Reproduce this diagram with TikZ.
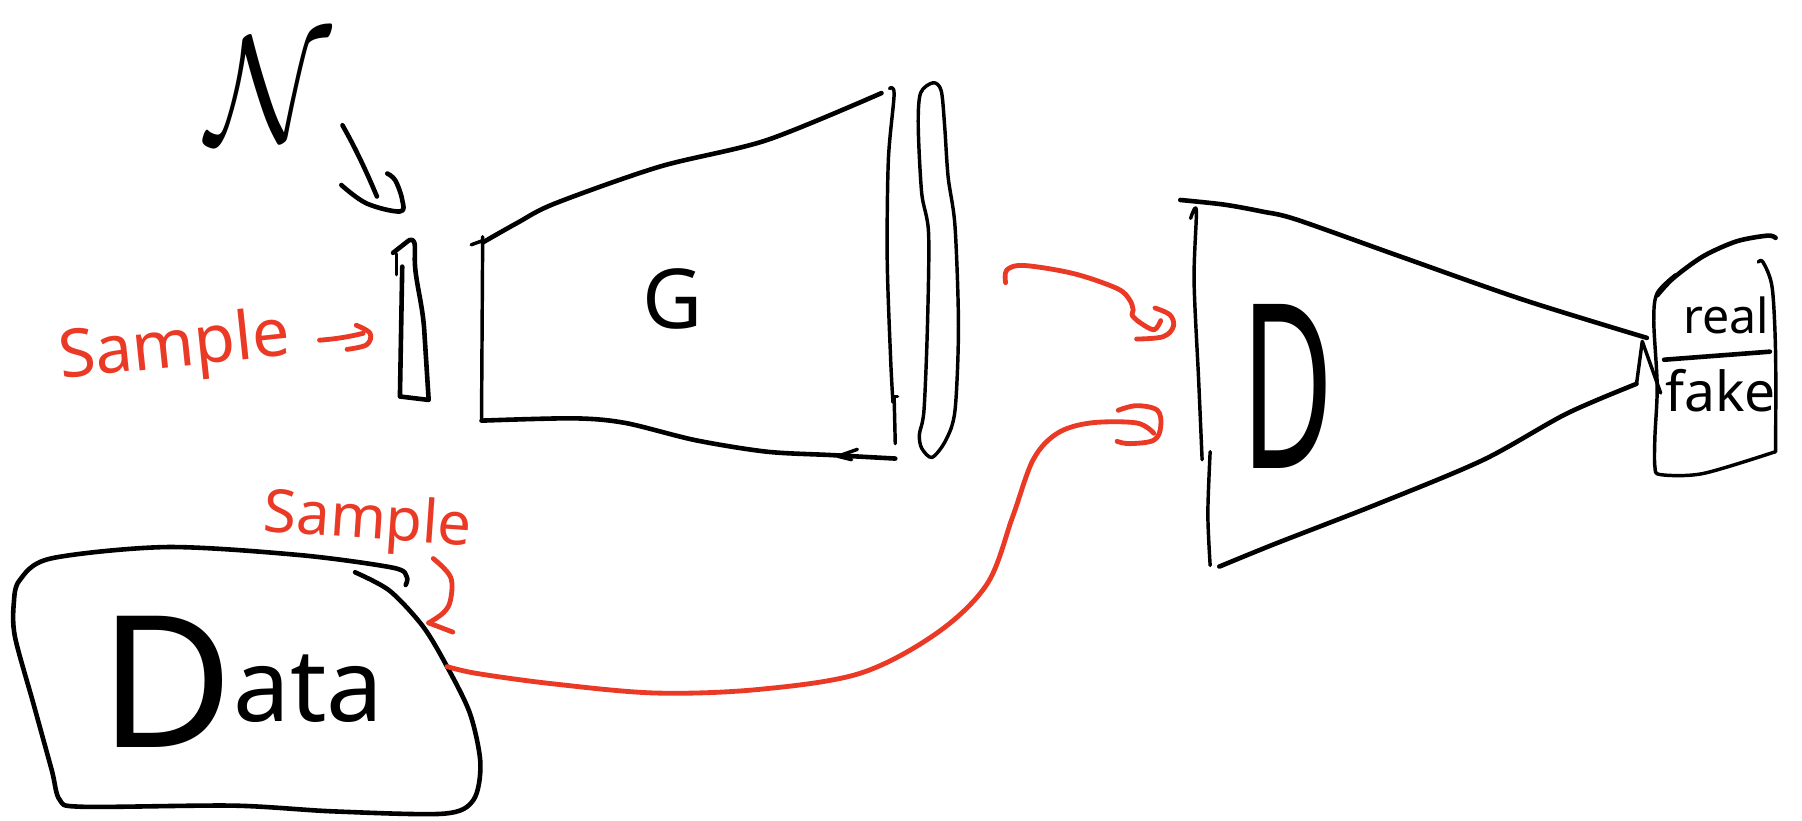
\documentclass[tikz,border=0pt]{standalone}
\usepackage{fontspec}
\setmainfont{Noto Sans}
\definecolor{redpen}{HTML}{EA3A26}
\begin{document}
\begin{tikzpicture}[x=0.5pt,y=-0.5pt,line cap=round,line join=round,
  ink/.style={draw=black,line width=2pt},
  thinink/.style={draw=black,line width=1.5pt},
  redink/.style={draw=redpen,line width=2.1pt},
  lbl/.style={inner sep=0pt,text=black},
  rlbl/.style={inner sep=0pt,text=redpen}]
\useasboundingbox (0,0) rectangle (1568,714);

% ---- noise label and arrow to z ----
\node[lbl,scale=6.6,xscale=0.85] (noise) at (234,78) {$\mathcal{N}$};
\coordinate (nA) at (298,109);
\coordinate (nB) at (328,171);
\draw[ink] (nA) .. controls (310,130) and (320,152) .. (nB);
\draw[ink] plot[smooth,tension=0.6] coordinates {(297,161) (319,177) (348,184) (350,174) (344,157) (337,151)};

% ---- z input bar ----
\draw[ink] (342,220) -- (356,209) .. controls (362,207) and (361,215) .. (361,222)
  .. controls (360,240) and (367,260) .. (369,285) -- (373,348) -- (348,345) -- (350,232);
\draw[thinink] (345,221) -- (345,239);

% ---- Sample -> z ----
\node[rlbl,rotate=6,font=\fontsize{29}{29}\selectfont] (samp1) at (152,304) {Sample};
\coordinate (s1a) at (278,296);
\coordinate (s1b) at (316,290);
\draw[redink] (s1a) .. controls (292,295) and (304,293) .. (s1b);
\draw[redink] plot[smooth,tension=0.6] coordinates {(310,283) (322,290) (319,300) (302,304)};

% ---- generator G ----
\draw[thinink] (420,206) -- (419,364);
\draw[thinink] (410,213) -- (421,209);
\draw[ink] plot[smooth,tension=0.5] coordinates {(420,211) (450,194) (483,177) (574,145) (667,122) (767,81)};
\draw[ink] plot[smooth,tension=0.5] coordinates {(419,366) (499,364) (544,368) (605,383) (667,393) (724,396) (779,399)};
\draw[thinink] (746,391) -- (729,397) -- (741,400);
\draw[thinink] plot[smooth,tension=0.5] coordinates {(774,77) (778,82) (773,139) (772,226) (775,313) (777,350)};
\draw[thinink] (778,345) -- (779,386);
\draw[thinink] (777,345) -- (781,345);
\node[lbl,font=\fontsize{36}{36}\selectfont\bfseries] (Glbl) at (585,260) {G};

% ---- generated sample (capsule) ----
\draw[thinink] plot[smooth cycle,tension=0.5] coordinates {(812,72) (819,79) (822,110) (825,154) (831,197) (834,284) (831,357) (823,383) (811,398) (802,390) (800,378) (804,357) (807,284) (808,203) (802,168) (799,110) (801,81)};

% ---- G -> D (red) ----
\coordinate (c1a) at (875,246);
\coordinate (c1b) at (1004,287);
\draw[redink] plot[smooth,tension=0.55] coordinates {(c1a) (876,235) (891,231) (934,238) (972,251) (983,261) (986,270) (985,274) (991,280) (c1b) (1010,279)};
\draw[redink] plot[smooth,tension=0.6] coordinates {(1005,268) (1018,274) (1021,284) (1012,293) (989,295)};

% ---- Data blob ----
\draw[ink] plot[smooth,tension=0.5] coordinates {(353,509) (354,502) (342,494) (261,483) (145,476) (44,486) (17,505) (12,525) (13,554) (29,612) (45,670) (52,696) (72,702) (203,701) (290,706) (386,708) (412,696) (418,664) (409,621) (389,580) (368,545) (339,514) (309,498)};
\node[lbl,anchor=base west] (datalbl) at (86,650) {\fontsize{80}{80}\selectfont D\raisebox{11pt}{\fontsize{44}{44}\selectfont ata}};

% ---- Sample from data ----
\node[rlbl,rotate=-4,font=\fontsize{26}{26}\selectfont] (samp2) at (320,455) {Sample};
\coordinate (h1) at (377,486);
\coordinate (h2) at (373,542);
\draw[redink] plot[smooth,tension=0.6] coordinates {(h1) (392,502) (392,522) (386,533) (h2)};
\draw[redink] (h2) -- (394,550);

% ---- Data -> D (red) ----
\coordinate (c2a) at (389,580);
\coordinate (c2b) at (1004,377);
\draw[redink] plot[smooth,tension=0.55] coordinates {(c2a) (415,586) (481,595) (570,603) (659,600) (748,586) (815,551) (859,508) (881,450) (899,400) (920,377) (949,368) (989,368) (c2b)};
\draw[redink] plot[smooth,tension=0.6] coordinates {(973,357) (989,353) (1007,357) (1010,371) (1004,383) (983,386) (972,384)};

% ---- discriminator D ----
\draw[ink] plot[smooth,tension=0.5] coordinates {(1027,174) (1065,178) (1098,184) (1128,191) (1218,223) (1326,261) (1433,294)};
\draw[thinink] plot[smooth,tension=0.5] coordinates {(1036,190) (1041,183) (1039,244) (1043,331) (1046,400)};
\draw[thinink] plot[smooth,tension=0.5] coordinates {(1053,393) (1051,447) (1053,492)};
\draw[ink] plot[smooth,tension=0.5] coordinates {(1061,493) (1110,473) (1200,438) (1291,400) (1363,360) (1424,334)};
\draw[thinink] (1424,334) -- (1429,297) -- (1445,342);
\node[lbl,xscale=0.55,font=\fontsize{100}{100}\selectfont] (Dlbl) at (1120,336) {D};

% ---- output real / fake ----
\draw[ink] plot[smooth,tension=0.5] coordinates {(1442,257) (1456,242) (1482,223) (1511,210) (1538,205) (1545,207)};
\draw[thinink] plot[smooth,tension=0.5] coordinates {(1458,239) (1442,255) (1439,279) (1442,336) (1440,380) (1440,406) (1445,413) (1482,412) (1545,393)};
\draw[thinink] plot[smooth,tension=0.5] coordinates {(1530,228) (1534,228) (1542,250) (1545,307) (1545,393)};
\draw[ink] (1448,313) -- (1540,306);
\node[lbl,anchor=base,font=\fontsize{21}{21}\selectfont] (real) at (1502,290) {real};
\node[lbl,anchor=base,font=\fontsize{24}{24}\selectfont] (fake) at (1497,358) {fake};
\end{tikzpicture}
\end{document}
